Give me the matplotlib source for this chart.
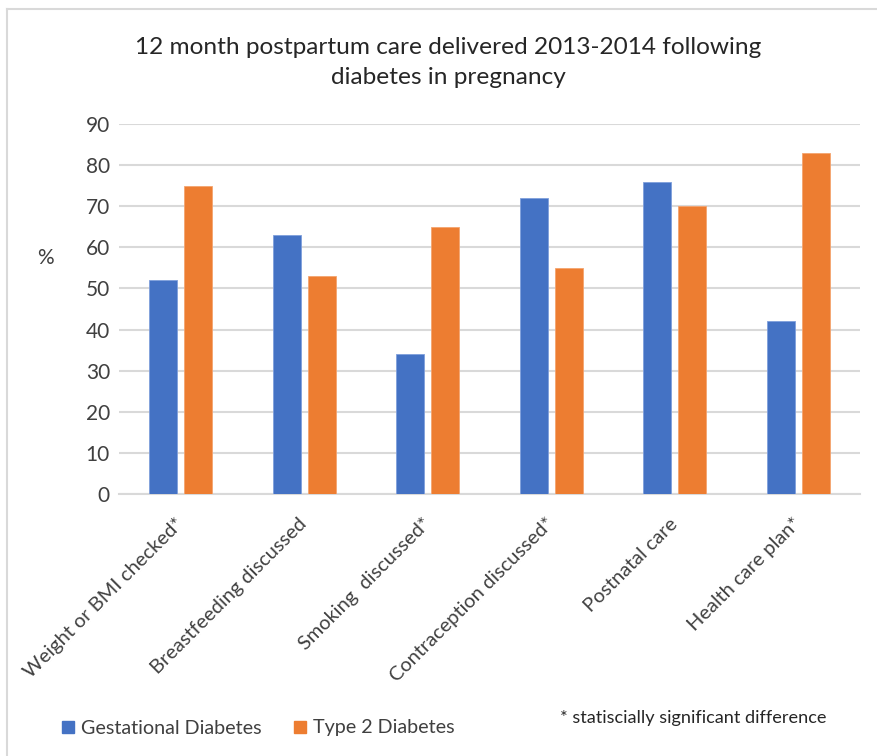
import numpy as np
import matplotlib
matplotlib.use('Agg')
import matplotlib.pyplot as plt
from matplotlib.lines import Line2D
import matplotlib.transforms as mtransforms

plt.rcParams['font.family'] = ['Lato', 'DejaVu Sans']

categories = ['Weight or BMI checked*', 'Breastfeeding discussed', 'Smoking  discussed*',
              'Contraception discussed*', 'Postnatal care', 'Health care plan*']
gestational = [52, 63, 34, 72, 76, 42]
type2 = [75, 53, 65, 55, 70, 83]
series_names = ['Gestational Diabetes', 'Type 2 Diabetes']
yticks = [0, 10, 20, 30, 40, 50, 60, 70, 80, 90]

blue = '#4472C4'
orange = '#ED7D31'
grid_c = '#d9d9d9'
txt_c = '#404040'

fig = plt.figure(figsize=(8.78, 7.56), dpi=100)
ax = fig.add_axes([119 / 878, 1 - 494 / 756, 741 / 878, 370 / 756])

x = np.arange(len(categories))
w = 0.227
ax.bar(x - 0.143, gestational, w, color=blue, edgecolor='#7f9fdc', linewidth=0.6, zorder=3)
ax.bar(x + 0.143, type2, w, color=orange, edgecolor='#f4a46f', linewidth=0.6, zorder=3)

ax.set_xlim(-0.5, len(categories) - 0.5)
ax.set_ylim(0, 90)
ax.set_yticks(yticks)
ax.yaxis.grid(True, color=grid_c, linewidth=1.5, zorder=0)
for s in ['top', 'right', 'left']:
    ax.spines[s].set_visible(False)
ax.spines['bottom'].set_color(grid_c)
ax.spines['bottom'].set_linewidth(1.5)
ax.tick_params(axis='both', length=0, labelsize=15, colors=txt_c, pad=6.5)

ax.set_xticks(x)
ax.set_xticklabels([])
off = mtransforms.ScaledTranslation(0, -27 / 100, fig.dpi_scale_trans)
for i, lab in enumerate(categories):
    ax.text(i, 0, lab, transform=ax.transData + off, rotation=45, ha='right', va='center',
            rotation_mode='anchor', fontsize=14.4, color=txt_c)

fig.text(45 / 878, 1 - 258 / 756, '%', fontsize=15, color=txt_c, ha='center', va='center')

fig.text(448 / 878, 1 - 47 / 756, '12 month postpartum care delivered 2013-2014 following',
         fontsize=17.6, color='#262626', ha='center', va='center')
fig.text(448 / 878, 1 - 78 / 756, 'diabetes in pregnancy',
         fontsize=17.6, color='#262626', ha='center', va='center')

# legend
handles = [Line2D([], [], marker='s', linestyle='', markersize=8, color=c) for c in (blue, orange)]
fig.legend(handles, series_names, loc='center left', bbox_to_anchor=(42 / 878, 1 - 728 / 756),
           ncol=2, frameon=False, fontsize=14.2, handletextpad=0.3, columnspacing=1.5,
           handlelength=0.8, labelcolor=txt_c)
fig.text(560 / 878, 1 - 718 / 756, '* statiscially significant difference',
         fontsize=13.1, color='#262626', ha='left', va='center')

# chart border (cropped on right and bottom)
fig.add_artist(Line2D([7 / 878, 7 / 878], [0, 1 - 9 / 756], color=grid_c, linewidth=1.5))
fig.add_artist(Line2D([7 / 878, 1], [1 - 9 / 756, 1 - 9 / 756], color=grid_c, linewidth=1.5))

fig.savefig('out.png', dpi=100)
